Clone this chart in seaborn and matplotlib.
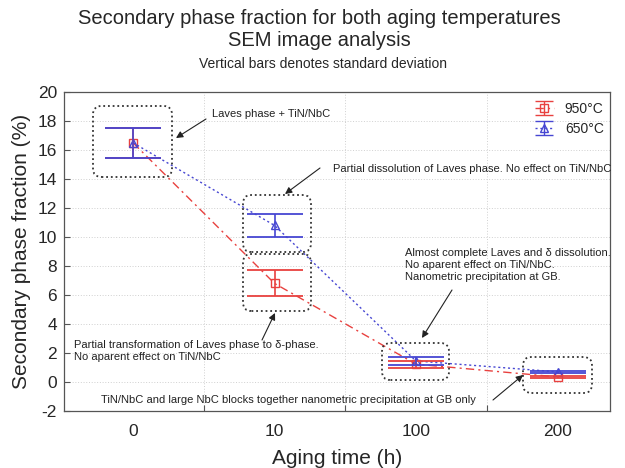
import numpy as np
import pandas as pd
import matplotlib
matplotlib.use("Agg")
import matplotlib.pyplot as plt
import seaborn as sns
from matplotlib.patches import FancyBboxPatch
from matplotlib.legend_handler import HandlerTuple

# ---------------- data ----------------
times = ["0", "10", "100", "200"]
temps = ["950°C", "650°C"]
mean_950 = [16.5, 6.8, 1.23, 0.35]
sd_950 = [1.05, 0.9, 0.25, 0.05]
mean_650 = [16.5, 10.8, 1.45, 0.70]
sd_650 = [1.05, 0.8, 0.28, 0.05]
yticks = list(range(-2, 21, 2))

RED = "#e8413f"
BLUE = "#4646d2"

sns.set_theme(style="white")
plt.rcParams["font.family"] = ["Liberation Sans", "DejaVu Sans"]

W, H = 625, 468
fig = plt.figure(figsize=(W / 100, H / 100), dpi=100)
L, R, T, B = 64, 610, 92, 411
ax = fig.add_axes([L / W, 1 - B / H, (R - L) / W, (B - T) / H])

df = pd.DataFrame({
    "time": times * 2,
    "value": mean_950 + mean_650,
    "temp": [temps[0]] * 4 + [temps[1]] * 4,
})

sns.pointplot(data=df, x="time", y="value", hue="temp", order=times,
              hue_order=temps, palette={temps[0]: RED, temps[1]: BLUE},
              markers=["s", "^"], linestyles=["-.", ":"], errorbar=None,
              dodge=False, ax=ax, linewidth=1.0, markersize=6,
              markeredgewidth=1.0, legend=False)

series_lines = {}
for line in list(ax.lines):
    c = matplotlib.colors.to_hex(line.get_color())
    line.set_markerfacecolor("none")
    if c.lower() == RED.lower():
        line.set_linestyle((0, (6, 3, 1.5, 3)))
        series_lines[temps[0]] = line
    else:
        line.set_linestyle((0, (1.5, 2)))
        series_lines[temps[1]] = line

xpos = np.arange(len(times))
ax.errorbar(xpos, mean_950, yerr=sd_950, fmt="none", ecolor=RED,
            elinewidth=1.2, capsize=20, capthick=1.3, zorder=3)
ax.errorbar(xpos, mean_650, yerr=sd_650, fmt="none", ecolor=BLUE,
            elinewidth=1.2, capsize=20, capthick=1.3, zorder=3)

# small-cap proxies for legend glyphs only (NaN data -> nothing drawn)
leg950 = ax.errorbar([np.nan], [np.nan], yerr=[1], fmt="none", ecolor=RED,
                     elinewidth=1.0, capsize=6.5, capthick=1.0)
leg650 = ax.errorbar([np.nan], [np.nan], yerr=[1], fmt="none", ecolor=BLUE,
                     elinewidth=1.0, capsize=6.5, capthick=1.0)

# axes limits (pixel-calibrated)
def px(x):
    return (x - 133) / 141.5

def py(y):
    return (382 - y) / 14.5

ax.set_xlim(px(L), px(R))
ax.set_ylim(-2, 20)
ax.set_yticks(yticks)
ax.set_yticklabels([str(v) for v in yticks])
ax.set_xticks(xpos)
ax.set_xticklabels(times)
ax.set_xticks([0.5, 1.5, 2.5], minor=True)
ax.tick_params(axis="x", which="major", length=0, pad=9, labelsize=12.5)
ax.tick_params(axis="x", which="minor", direction="in", length=4, color="#555555", width=0.8, bottom=True)
ax.tick_params(axis="y", which="major", direction="in", length=4, color="#555555", width=0.8,
               left=True, pad=5, labelsize=12.5)
ax.grid(False)
ax.yaxis.grid(True, which="major", linestyle=(0, (1, 1.8)), color="#d0d0d0", linewidth=0.7)
ax.xaxis.grid(True, which="minor", linestyle=(0, (1, 1.8)), color="#d0d0d0", linewidth=0.7)
ax.set_axisbelow(True)
for s in ax.spines.values():
    s.set_color("#555555")
    s.set_linewidth(0.9)
ax.set_xlabel("")
ax.set_ylabel("")

# dotted rounded boxes (pixel-defined layout)
aspect = 141.5 / 14.5
def box(x0, y0, x1, y1):
    p = FancyBboxPatch((px(x0), py(y1)), px(x1) - px(x0), py(y0) - py(y1),
                       boxstyle="round,pad=0,rounding_size=0.06",
                       mutation_aspect=aspect, transform=ax.transData,
                       fill=False, edgecolor="#333333", linewidth=1.3,
                       linestyle=(0, (1, 1.6)), zorder=4)
    ax.add_patch(p)

box(93, 106, 172, 177)
box(243, 195, 311, 252)
box(243, 254, 311, 311)
box(382, 343, 449, 380)
box(523, 357, 592, 393)

def arrow(x0, y0, x1, y1):
    ax.annotate("", xy=(px(x1), py(y1)), xytext=(px(x0), py(y0)),
                arrowprops=dict(arrowstyle="-|>", color="#222222", lw=0.8,
                                mutation_scale=10, shrinkA=0, shrinkB=0),
                zorder=5)

fs = 8
ax.text(px(212), py(114), "Laves phase + TiN/NbC", fontsize=fs, ha="left", va="center", color="#222222")
arrow(206, 119, 176, 138)
ax.text(px(333), py(169), "Partial dissolution of Laves phase. No effect on TiN/NbC",
        fontsize=fs, ha="left", va="center", color="#222222")
arrow(320, 168, 285, 194)
ax.text(px(74), py(351), "Partial transformation of Laves phase to δ-phase.\nNo aparent effect on TiN/NbC",
        fontsize=fs, ha="left", va="center", color="#222222", linespacing=1.25)
arrow(262, 340, 275, 313)
ax.text(px(405), py(265), "Almost complete Laves and δ dissolution.\nNo aparent effect on TiN/NbC.\nNanometric precipitation at GB.",
        fontsize=fs, ha="left", va="center", color="#222222", linespacing=1.25)
arrow(452, 290, 422, 338)
ax.text(px(101), py(400), "TiN/NbC and large NbC blocks together nanometric precipitation at GB only",
        fontsize=fs, ha="left", va="center", color="#222222")
arrow(493, 400, 523, 375)

# legend
handles = [(series_lines[temps[0]], leg950), (series_lines[temps[1]], leg650)]
ax.legend(handles, temps, handler_map={tuple: HandlerTuple(ndivide=1)},
          loc="upper left", bbox_to_anchor=((535 - L) / (R - L), (B - 102) / (B - T)),
          frameon=False, fontsize=10, handlelength=1.35, handletextpad=0.8,
          labelspacing=0.4, borderpad=0, borderaxespad=0)

# titles and axis labels
fig.text(319 / W, 1 - 18 / H, "Secondary phase fraction for both aging temperatures",
         ha="center", va="center", fontsize=14.5)
fig.text(319 / W, 1 - 41 / H, "SEM image analysis", ha="center", va="center", fontsize=14.5)
fig.text(323 / W, 1 - 64 / H, "Vertical bars denotes standard deviation",
         ha="center", va="center", fontsize=10)
fig.text(22 / W, 1 - 251 / H, "Secondary phase fraction (%)", rotation=90,
         ha="center", va="center", fontsize=15)
fig.text(337 / W, 1 - 458 / H, "Aging time (h)", ha="center", va="center", fontsize=15)

fig.savefig("out.png", dpi=100)
